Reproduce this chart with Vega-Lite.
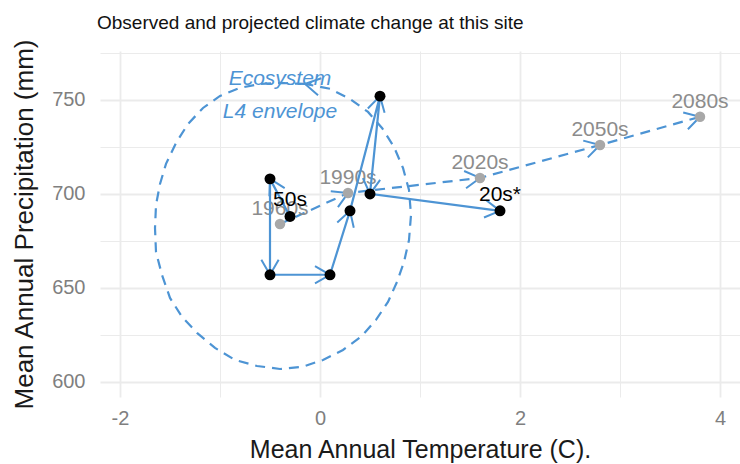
{
  "$schema": "https://vega.github.io/schema/vega-lite/v6.json",
  "autosize": {"type": "none"},
  "padding": {"left": 100, "top": 51, "right": 0, "bottom": 67},
  "width": 640,
  "height": 346,
  "background": "white",
  "config": {"view": {"stroke": null}, "font": "Liberation Sans"},
  "title": {
    "text": "Observed and projected climate change at this site",
    "anchor": "start",
    "frame": "group",
    "fontSize": 19,
    "font": "Liberation Sans",
    "fontWeight": "normal",
    "color": "#111111",
    "dx": -3,
    "baseline": "alphabetic",
    "offset": -10
  },
  "datasets": {
    "obs": [
      {"seq": 1, "decade": "1950s", "x": -0.3, "y": 688, "label": "50s"},
      {"seq": 2, "decade": "1960s", "x": -0.5, "y": 708, "label": ""},
      {"seq": 3, "decade": "1970s", "x": -0.5, "y": 657, "label": ""},
      {"seq": 4, "decade": "1980s", "x": 0.1, "y": 657, "label": ""},
      {"seq": 5, "decade": "1990s", "x": 0.3, "y": 691, "label": ""},
      {"seq": 6, "decade": "2000s", "x": 0.6, "y": 752, "label": ""},
      {"seq": 7, "decade": "2010s", "x": 0.5, "y": 700, "label": ""},
      {"seq": 8, "decade": "2020s*", "x": 1.8, "y": 691, "label": "20s*"}
    ],
    "proj": [
      {"seq": 1, "x": -0.4, "y": 684, "label": "1960s"},
      {"seq": 2, "x": 0.28, "y": 700.5, "label": "1990s"},
      {"seq": 3, "x": 1.6, "y": 708.5, "label": "2020s"},
      {"seq": 4, "x": 2.8, "y": 726, "label": "2050s"},
      {"seq": 5, "x": 3.8, "y": 741, "label": "2080s"}
    ],
    "env": [
      {"seq": 1, "x": -0.15, "y": 758.5},
      {"seq": 2, "x": -0.4, "y": 759.0},
      {"seq": 3, "x": -0.6, "y": 758.5},
      {"seq": 4, "x": -0.8, "y": 756.4},
      {"seq": 5, "x": -1.0, "y": 752.1},
      {"seq": 6, "x": -1.17, "y": 745.7},
      {"seq": 7, "x": -1.32, "y": 737.2},
      {"seq": 8, "x": -1.44, "y": 727.1},
      {"seq": 9, "x": -1.54, "y": 716.0},
      {"seq": 10, "x": -1.6, "y": 705.3},
      {"seq": 11, "x": -1.64, "y": 694.1},
      {"seq": 12, "x": -1.65, "y": 681.9},
      {"seq": 13, "x": -1.64, "y": 669.1},
      {"seq": 14, "x": -1.58, "y": 656.9},
      {"seq": 15, "x": -1.5, "y": 644.7},
      {"seq": 16, "x": -1.38, "y": 634.6},
      {"seq": 17, "x": -1.23, "y": 626.1},
      {"seq": 18, "x": -1.05, "y": 618.1},
      {"seq": 19, "x": -0.85, "y": 611.7},
      {"seq": 20, "x": -0.63, "y": 608.5},
      {"seq": 21, "x": -0.4, "y": 606.9},
      {"seq": 22, "x": -0.18, "y": 608.0},
      {"seq": 23, "x": 0.03, "y": 611.7},
      {"seq": 24, "x": 0.23, "y": 617.0},
      {"seq": 25, "x": 0.42, "y": 624.5},
      {"seq": 26, "x": 0.56, "y": 633.0},
      {"seq": 27, "x": 0.68, "y": 642.6},
      {"seq": 28, "x": 0.77, "y": 653.2},
      {"seq": 29, "x": 0.84, "y": 663.8},
      {"seq": 30, "x": 0.89, "y": 675.5},
      {"seq": 31, "x": 0.91, "y": 688.8},
      {"seq": 32, "x": 0.89, "y": 702.1},
      {"seq": 33, "x": 0.83, "y": 713.8},
      {"seq": 34, "x": 0.74, "y": 725.0},
      {"seq": 35, "x": 0.62, "y": 735.1},
      {"seq": 36, "x": 0.48, "y": 743.6},
      {"seq": 37, "x": 0.3, "y": 750.5},
      {"seq": 38, "x": 0.1, "y": 755.9},
      {"seq": 39, "x": -0.15, "y": 758.5}
    ],
    "envlabel": [
      {"x": -0.4, "y": 761, "text": "Ecosystem\nL4 envelope"}
    ]
  },
  "encoding": {
    "x": {
      "field": "x",
      "type": "quantitative",
      "scale": {"domain": [-2.2, 4.2], "nice": false, "zero": false},
      "title": "Mean Annual Temperature (C).",
      "axis": {
        "values": [-2, -1, 0, 1, 2, 3, 4],
        "labelExpr": "datum.value % 2 === 0 ? replace(datum.label, '\u2212', '-') : ''",
        "labelOverlap": false,
        "labelFlush": false,
        "grid": true,
        "gridColor": "#EBEBEB",
        "gridWidth": {"condition": {"test": "datum.value % 2 !== 0", "value": 1}, "value": 1.8},
        "ticks": false,
        "domain": false,
        "labelFontSize": 20,
        "labelColor": "#7F7F7F",
        "labelFont": "Liberation Sans",
        "labelPadding": 11,
        "titleFontSize": 25,
        "titleFont": "Liberation Sans",
        "titleFontWeight": "normal",
        "titleColor": "#1A1A1A",
        "titlePadding": 9
      }
    },
    "y": {
      "field": "y",
      "type": "quantitative",
      "scale": {"domain": [592, 776], "nice": false, "zero": false},
      "title": "Mean Annual Precipitation (mm)",
      "axis": {
        "values": [600, 625, 650, 675, 700, 725, 750, 775],
        "labelExpr": "datum.value % 50 === 0 ? datum.label : ''",
        "labelOverlap": false,
        "labelFlush": false,
        "grid": true,
        "gridColor": "#EBEBEB",
        "gridWidth": {"condition": {"test": "datum.value % 50 !== 0", "value": 1}, "value": 1.8},
        "ticks": false,
        "domain": false,
        "labelFontSize": 20,
        "labelColor": "#7F7F7F",
        "labelFont": "Liberation Sans",
        "labelPadding": 15,
        "titleFontSize": 26,
        "titleFont": "Liberation Sans",
        "titleFontWeight": "normal",
        "titleColor": "#1A1A1A",
        "titlePadding": 14
      }
    }
  },
  "layer": [
    {
      "data": {"name": "env"},
      "mark": {"type": "line", "color": "#4D94D4", "strokeWidth": 2.2, "strokeDash": [10, 7]},
      "encoding": {"order": {"field": "seq", "type": "quantitative"}}
    },
    {
      "data": {"name": "env"},
      "transform": [
        {"window": [{"op": "lag", "field": "x", "as": "x0"}, {"op": "lag", "field": "y", "as": "y0"}], "sort": [{"field": "seq", "order": "ascending"}]},
        {"filter": "datum.seq === 39"},
        {"calculate": "atan2(-(datum.y - datum.y0) * 346 / 184, (datum.x - datum.x0) * 100) * 180 / PI", "as": "ang"}
      ],
      "mark": {"type": "point", "shape": "M-1,-0.577L0,0L-1,0.577", "filled": false, "size": 900, "strokeWidth": 2, "color": "#4D94D4", "opacity": 1},
      "encoding": {"angle": {"field": "ang", "type": "quantitative", "scale": null}}
    },
    {
      "data": {"name": "envlabel"},
      "mark": {"type": "text", "font": "Liberation Sans", "fontStyle": "italic", "fontSize": 21, "color": "#4D94D4", "lineBreak": "\n", "lineHeight": 33, "baseline": "middle", "align": "center"},
      "encoding": {"text": {"field": "text"}}
    },
    {
      "data": {"name": "proj"},
      "mark": {"type": "line", "color": "#4D94D4", "strokeWidth": 2.2, "strokeDash": [10, 7]},
      "encoding": {"order": {"field": "seq", "type": "quantitative"}}
    },
    {
      "data": {"name": "proj"},
      "transform": [
        {"window": [{"op": "lag", "field": "x", "as": "x0"}, {"op": "lag", "field": "y", "as": "y0"}], "sort": [{"field": "seq", "order": "ascending"}]},
        {"filter": "datum.x0 != null"},
        {"calculate": "atan2(-(datum.y - datum.y0) * 346 / 184, (datum.x - datum.x0) * 100) * 180 / PI", "as": "ang"}
      ],
      "mark": {"type": "point", "shape": "M-1,-0.577L0,0L-1,0.577", "filled": false, "size": 900, "strokeWidth": 2, "color": "#4D94D4", "opacity": 1},
      "encoding": {"angle": {"field": "ang", "type": "quantitative", "scale": null}}
    },
    {
      "data": {"name": "proj"},
      "mark": {"type": "circle", "size": 110, "color": "#A8A8A8", "opacity": 1}
    },
    {
      "data": {"name": "proj"},
      "mark": {"type": "text", "font": "Liberation Sans", "fontSize": 21, "color": "#8C8C8C", "dy": -15, "baseline": "middle", "align": "center"},
      "encoding": {"text": {"field": "label"}}
    },
    {
      "data": {"name": "obs"},
      "mark": {"type": "line", "color": "#4D94D4", "strokeWidth": 2.2},
      "encoding": {"order": {"field": "seq", "type": "quantitative"}}
    },
    {
      "data": {"name": "obs"},
      "transform": [
        {"window": [{"op": "lag", "field": "x", "as": "x0"}, {"op": "lag", "field": "y", "as": "y0"}], "sort": [{"field": "seq", "order": "ascending"}]},
        {"filter": "datum.x0 != null"},
        {"calculate": "atan2(-(datum.y - datum.y0) * 346 / 184, (datum.x - datum.x0) * 100) * 180 / PI", "as": "ang"}
      ],
      "mark": {"type": "point", "shape": "M-1,-0.577L0,0L-1,0.577", "filled": false, "size": 900, "strokeWidth": 2, "color": "#4D94D4", "opacity": 1},
      "encoding": {"angle": {"field": "ang", "type": "quantitative", "scale": null}}
    },
    {
      "data": {"name": "obs"},
      "mark": {"type": "circle", "size": 120, "color": "#000000", "opacity": 1}
    },
    {
      "data": {"name": "obs"},
      "mark": {"type": "text", "font": "Liberation Sans", "fontSize": 21, "color": "#000000", "dy": -16, "baseline": "middle", "align": "center"},
      "encoding": {"text": {"field": "label"}}
    }
  ]
}
